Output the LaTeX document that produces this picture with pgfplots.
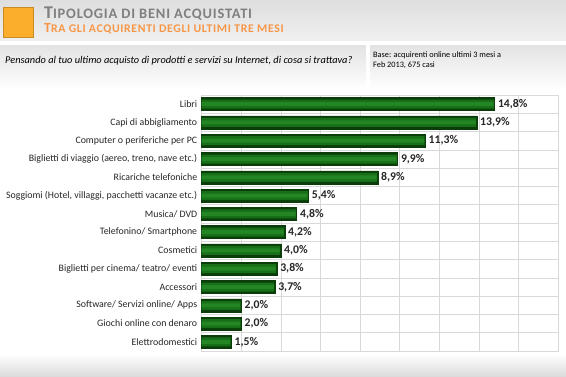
\documentclass[border=0pt]{standalone}
\usepackage{pgfplots}
\usepackage{pgfplotstable}
\pgfplotsset{compat=1.18}
\usepackage{fontspec}
\setmainfont{Carlito}
\newfontfamily\titlefont[LetterSpace=5.5]{Carlito}
\definecolor{bardark}{HTML}{0A3D0A}
\definecolor{barmid}{HTML}{176F17}
\definecolor{barlight}{HTML}{238523}
\definecolor{titlegray}{HTML}{7F7F7F}
\definecolor{suborange}{HTML}{F79646}
\definecolor{sqorange}{HTML}{FBAE2B}
\definecolor{gridgray}{HTML}{D9D9D9}
\pgfplotstableread{
c v l
1 14.8 {14,8\%}
2 13.9 {13,9\%}
3 11.3 {11,3\%}
4 9.9 {9,9\%}
5 8.9 {8,9\%}
6 5.4 {5,4\%}
7 4.8 {4,8\%}
8 4.2 {4,2\%}
9 4.0 {4,0\%}
10 3.8 {3,8\%}
11 3.7 {3,7\%}
12 2.0 {2,0\%}
13 2.0 {2,0\%}
14 1.5 {1,5\%}
}\datatable
\begin{document}
\begin{tikzpicture}
\begin{scope}[x=1bp,y=1bp]
\path[use as bounding box] (0,0) rectangle (566,376);
% header band
\shade[top color=black!13, bottom color=black!6] (0,336) rectangle (566,376);
\fill[sqorange] (3,339) rectangle (33,369);
\draw[sqorange!80!black, line width=0.4bp] (3,339) rectangle (33,369);
\node[anchor=base west, inner sep=0, text=titlegray, font=\titlefont\bfseries] at (44,357.5)
  {{\fontsize{18}{18}\selectfont T}{\fontsize{14.5}{14}\selectfont IPOLOGIA DI BENI ACQUISTATI}};
\node[anchor=base west, inner sep=0, text=suborange, font=\titlefont\bfseries] at (44,343.5)
  {{\fontsize{14}{14}\selectfont T}{\fontsize{11.8}{11}\selectfont RA GLI ACQUIRENTI DEGLI ULTIMI TRE MESI}};
% question boxes
\shade[top color=black!11, bottom color=white] (0,286) rectangle (366,331);
\shade[top color=black!11, bottom color=white] (370,286) rectangle (566,331);
\node[anchor=base west, inner sep=0, font=\itshape\fontsize{10.4}{11}\selectfont] at (5,313)
  {Pensando al tuo ultimo acquisto di prodotti e servizi su Internet, di cosa si trattava?};
\node[anchor=base west, inner sep=0, font=\fontsize{8.3}{9}\selectfont] at (373,319)
  {Base: acquirenti online ultimi 3 mesi a};
\node[anchor=base west, inner sep=0, font=\fontsize{8.3}{9}\selectfont] at (373,308.5)
  {Feb 2013, 675 casi};
% bottom band
\shade[top color=white, bottom color=black!14] (0,0) rectangle (566,22);
\end{scope}
\begin{axis}[
  at={(201.7bp,25bp)}, anchor=south west,
  scale only axis, width=356.3bp, height=256bp,
  xmin=0, xmax=18, ymin=0.5, ymax=14.5,
  y dir=reverse,
  xtick={0,2,...,18}, xticklabels={},
  ytick={1,...,14},
  yticklabels={Libri, Capi di abbigliamento, Computer o periferiche per PC,
    {Biglietti di viaggio (aereo, treno, nave etc.)}, Ricariche telefoniche,
    {Soggiomi (Hotel, villaggi, pacchetti vacanze etc.)}, Musica/ DVD,
    Telefonino/ Smartphone, Cosmetici, Biglietti per cinema/ teatro/ eventi,
    Accessori, Software/ Servizi online/ Apps, Giochi online con denaro, Elettrodomestici},
  minor ytick={1.5,2.5,...,13.5},
  xmajorgrids, yminorgrids,
  grid style={gridgray, line width=0.6bp},
  minor grid style={gridgray, line width=0.6bp},
  axis line style={gridgray, line width=0.6bp},
  major tick length=0, minor tick length=0,
  yticklabel style={font=\fontsize{9.9}{10}\selectfont, text=black!85, xshift=-1bp},
  xbar, bar shift=0pt,
  clip=false,
]
\addplot[xbar, bar shift=0pt, bar width=13bp, draw=bardark, line width=0.5bp, fill=bardark]
  table[x=v, y=c] {\datatable};
\addplot[xbar, bar shift=0pt, bar width=9bp, draw=none, fill=barmid]
  table[x expr=\thisrow{v}-0.04, y=c] {\datatable};
\addplot[xbar, bar shift=0pt, bar width=4bp, draw=none, fill=barlight,
  nodes near coords, point meta=explicit symbolic,
  nodes near coords style={font=\bfseries\fontsize{11.8}{12}\selectfont, text=black!85, anchor=west, xshift=1bp}]
  table[x expr=\thisrow{v}-0.06, y=c, meta=l] {\datatable};
\end{axis}
\end{tikzpicture}
\end{document}
